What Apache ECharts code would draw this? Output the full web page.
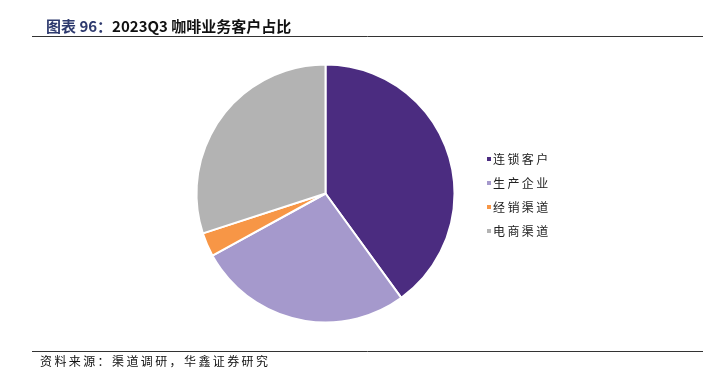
<!DOCTYPE html>
<html><head><meta charset="utf-8">
<script src="https://cdn.jsdelivr.net/npm/echarts@6/dist/echarts.min.js"></script>
<style>html,body{margin:0;padding:0;background:#fff}#c{width:703px;height:388px}</style>
</head><body><div id="c"></div>
<script>
const categories = ['连锁客户', '生产企业', '经销渠道', '电商渠道'];
const values = [40, 27, 3, 30];
const colors = ['#4B2C80', '#A599CC', '#F79646', '#B3B3B3'];
const titlePrefix = '图表 96：';
const titleText = '2023Q3 咖啡业务客户占比';
const sourceText = '资料来源：渠道调研，华鑫证券研究';

const sp = s => s.split('').join('\u2009');

const chart = echarts.init(document.getElementById('c'));
chart.setOption({
  animation: false,
  color: colors,
  title: {
    text: '{a|' + titlePrefix + '}{b|' + titleText + '}',
    left: 41, top: 14,
    textStyle: {
      rich: {
        a: {fontSize: 15, fontWeight: 'bold', color: '#2E3A6E', fontFamily: 'Noto Sans CJK SC'},
        b: {fontSize: 15, fontWeight: 'bold', color: '#111', fontFamily: 'Noto Sans CJK SC'}
      }
    }
  },
  graphic: [
    {type: 'line', shape: {x1: 32, y1: 36.5, x2: 703, y2: 36.5}, style: {stroke: '#333', lineWidth: 1}},
    {type: 'line', shape: {x1: 32, y1: 351.5, x2: 703, y2: 351.5}, style: {stroke: '#333', lineWidth: 1}},
    {type: 'text', left: 40, top: 355, style: {text: sp(sourceText), fontSize: 12, fill: '#111', fontFamily: 'Noto Sans CJK SC'}}
  ],
  legend: {
    orient: 'vertical',
    left: 480, top: 148,
    itemWidth: 6, itemHeight: 6, itemGap: 12,
    icon: 'rect',
    formatter: n => sp(n),
    textStyle: {fontSize: 12, color: '#222', fontFamily: 'Noto Sans CJK SC', padding: [0, 0, 0, -4]},
    data: categories
  },
  series: [{
    type: 'pie',
    center: [325.5, 193.5],
    radius: [0, 129],
    startAngle: 90,
    clockwise: true,
    label: {show: false},
    labelLine: {show: false},
    itemStyle: {borderColor: '#fff', borderWidth: 2},
    data: categories.map((n, i) => ({name: n, value: values[i]}))
  }]
});
</script></body></html>
